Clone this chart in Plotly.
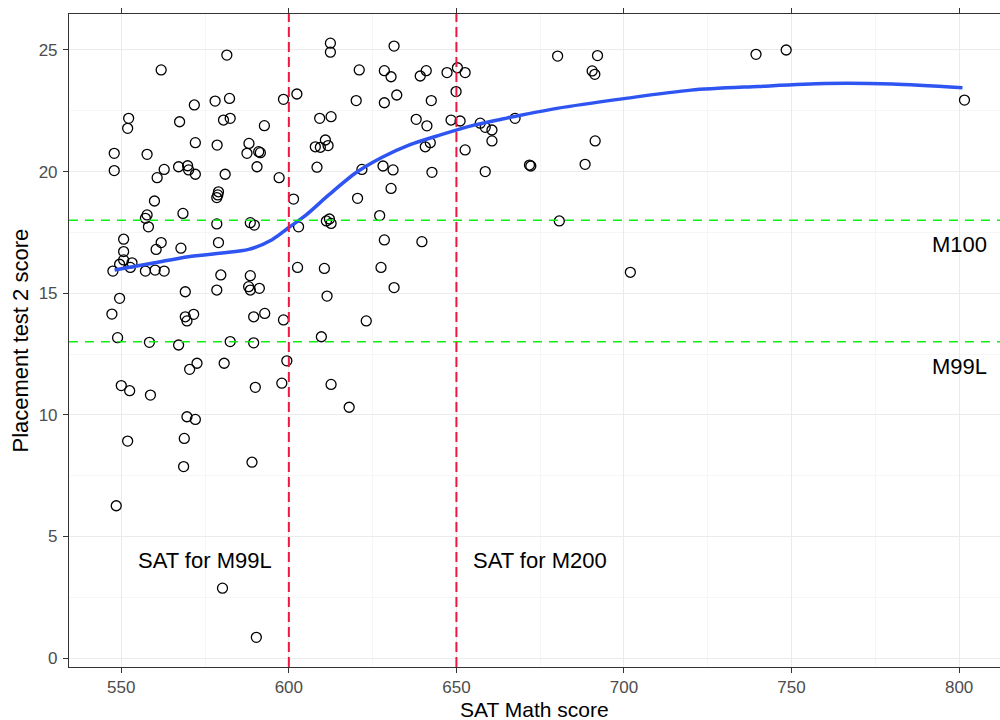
import plotly.graph_objects as go

# Placement test 2 score against SAT Math score, one circle per student
sat_math = [
    581.5, 561.9, 598.4, 578.0, 582.3, 571.8, 552.2, 551.9, 567.4, 580.5,
    582.5, 592.7, 572.1, 578.6, 588.1, 587.5, 591.0, 591.5, 547.9, 557.7,
    590.5, 547.9, 562.8, 567.1, 569.8, 570.1, 572.1, 560.7, 581.0, 597.1,
    579.0, 578.8, 578.5, 559.9, 557.7, 557.2, 558.1, 568.4, 578.5, 588.5,
    589.7, 550.7, 550.7, 561.9, 560.4, 567.8, 579.0, 550.7, 553.2, 549.5,
    552.7, 547.5, 557.2, 560.1, 562.8, 579.7, 588.5, 569.1, 578.5, 588.0,
    588.5, 591.2, 549.5, 547.2, 569.1, 571.6, 569.6, 589.5, 592.8, 598.4,
    548.9, 558.4, 567.1, 582.5, 589.5, 570.4, 572.6, 580.7, 599.4, 550.0,
    552.5, 558.7, 590.0, 597.9, 569.6, 572.1, 551.9, 568.8, 589.0, 568.6,
    548.5, 580.2, 590.3,
    612.4, 612.4, 631.4, 621.0, 628.5, 630.5, 639.2, 641.0, 647.2, 650.3,
    652.6, 602.4, 620.1, 628.5, 632.2, 642.5, 649.9, 609.2, 612.6, 638.0,
    641.2, 648.4, 651.1, 610.9, 607.9, 609.4, 611.7, 640.7, 642.2, 652.6,
    608.4, 621.8, 628.1, 631.1, 642.7, 601.4, 620.5, 630.5, 627.1, 602.9,
    611.2, 612.6, 612.1, 628.5, 639.7, 602.6, 610.6, 627.5, 631.4, 611.4,
    623.1, 609.7, 612.6, 618.0,
    680.2, 692.1, 690.5, 691.3, 657.1, 658.6, 660.6, 660.6, 667.5, 658.6,
    671.8, 672.2, 691.4, 688.4, 680.7, 701.9, 739.4, 748.4, 801.6,
]
placement_score = [
    24.79, 24.18, 22.97, 22.90, 23.01, 22.74, 22.19, 21.78, 22.05, 22.12,
    22.19, 21.89, 21.19, 21.09, 21.16, 20.75, 20.82, 20.78, 20.75, 20.71,
    20.20, 20.04, 20.09, 20.20, 20.24, 20.07, 19.89, 19.75, 19.89, 19.75,
    19.17, 19.04, 18.93, 18.79, 18.22, 18.08, 17.73, 18.28, 17.85, 17.90,
    17.80, 17.22, 16.71, 17.08, 16.80, 16.85, 17.08, 16.37, 16.25, 16.19,
    16.06, 15.91, 15.91, 15.95, 15.91, 15.75, 15.72, 15.06, 15.13, 15.27,
    15.13, 15.20, 14.79, 14.14, 14.03, 14.13, 13.86, 14.03, 14.17, 13.90,
    13.17, 12.98, 12.87, 13.01, 12.96, 11.87, 12.12, 12.12, 12.22, 11.20,
    10.99, 10.81, 11.13, 11.30, 9.92, 9.81, 8.92, 9.03, 8.05, 7.87,
    6.26, 2.87, 0.85,
    25.28, 24.91, 25.16, 24.18, 24.15, 23.90, 23.93, 24.15, 24.07, 24.27,
    24.07, 23.19, 22.92, 22.83, 23.15, 22.92, 23.29, 22.19, 22.26, 22.15,
    21.88, 22.12, 22.08, 21.30, 21.02, 21.00, 21.07, 21.02, 21.19, 20.89,
    20.18, 20.09, 20.23, 20.07, 19.97, 18.87, 18.90, 19.31, 18.19, 17.73,
    17.97, 17.87, 18.05, 17.19, 17.12, 16.06, 16.02, 16.06, 15.23, 14.88,
    13.86, 13.21, 11.25, 10.31,
    24.75, 24.77, 24.14, 24.00, 21.99, 21.82, 21.71, 21.26, 22.19, 20.00,
    20.27, 20.23, 21.26, 20.30, 17.97, 15.86, 24.82, 25.00, 22.94,
]

# Smoothed (loess) trend through the scatter
trend_sat = [548, 560, 570, 580, 588, 595, 600, 605, 612, 620, 628, 636,
             645, 655, 665, 680, 700, 720, 740, 760, 780, 801]
trend_score = [15.95, 16.25, 16.5, 16.65, 16.8, 17.2, 17.7, 18.2, 19.05,
               19.95, 20.6, 21.1, 21.5, 21.9, 22.2, 22.6, 23.0, 23.35,
               23.5, 23.62, 23.6, 23.45]

# Cut-offs
sat_cutoffs = [600, 650]
placement_cutoffs = [13, 18]
sat_cutoff_labels = ["SAT for M99L", "SAT for M200"]
sat_label_x = [575, 675]
placement_labels = ["M99L", "M100"]
placement_label_y = [12, 17]

x_ticks = [550, 600, 650, 700, 750, 800]
y_ticks = [0, 5, 10, 15, 20, 25]

FONT = "Liberation Sans, Arial, Helvetica, sans-serif"

fig = go.Figure()

fig.add_trace(go.Scatter(
    x=sat_math, y=placement_score, mode="markers",
    marker=dict(symbol="circle-open", size=10, color="black",
                line=dict(width=1.3, color="black")),
    showlegend=False, hoverinfo="x+y",
))

fig.add_trace(go.Scatter(
    x=trend_sat, y=trend_score, mode="lines",
    line=dict(color="#2E54F2", width=3.5, shape="spline", smoothing=0.8),
    showlegend=False,
))

for y in placement_cutoffs:
    fig.add_hline(y=y, line=dict(color="#11EE11", width=1.5, dash="9px,7px"))
for x in sat_cutoffs:
    fig.add_vline(x=x, line=dict(color="#F0163F", width=2, dash="10px,5px"))

for text, x in zip(sat_cutoff_labels, sat_label_x):
    fig.add_annotation(x=x, y=4, text=text, showarrow=False,
                       font=dict(family=FONT, size=22, color="black"))
for text, y in zip(placement_labels, placement_label_y):
    fig.add_annotation(x=800, y=y, text=text, showarrow=False,
                       font=dict(family=FONT, size=22, color="black"))

# Axis titles
fig.add_annotation(xref="paper", yref="paper", x=0.5, y=-0.0645,
                   text="SAT Math score", showarrow=False, yanchor="middle",
                   font=dict(family=FONT, size=21, color="black"))
fig.add_annotation(xref="paper", yref="paper", x=-0.0526, y=0.5,
                   text="Placement test 2 score", showarrow=False,
                   textangle=-90, xanchor="center",
                   font=dict(family=FONT, size=22, color="black"))

grid = "#EBEBEB"
fig.update_xaxes(
    range=[534.4, 812.2], tickvals=x_ticks, ticks="outside", ticklen=5,
    tickcolor="#333333", tickwidth=1.1, showline=True, linecolor="#333333",
    linewidth=1.1, mirror="ticks", showgrid=True, gridcolor=grid,
    gridwidth=1.2, zeroline=False,
    minor=dict(dtick=25, tick0=525, showgrid=True, gridcolor="#F6F6F6",
               gridwidth=0.6),
    tickfont=dict(family=FONT, size=17, color="#4D4D4D"),
    ticklabelstandoff=0,
)
fig.update_yaxes(
    range=[-0.37, 26.48], tickvals=y_ticks, ticks="outside", ticklen=5,
    tickcolor="#333333", tickwidth=1.1, showline=True, linecolor="#333333",
    linewidth=1.1, mirror=False, showgrid=True, gridcolor=grid,
    gridwidth=1.2, zeroline=False,
    minor=dict(dtick=2.5, tick0=2.5, showgrid=True, gridcolor="#F6F6F6",
               gridwidth=0.6),
    tickfont=dict(family=FONT, size=17, color="#4D4D4D"),
    ticklabelstandoff=2,
)

fig.update_layout(
    width=1000, height=720,
    margin=dict(l=69, r=0, t=14, b=53, autoexpand=False),
    plot_bgcolor="white", paper_bgcolor="white",
    font=dict(family=FONT),
)

fig.write_html("out.html")
